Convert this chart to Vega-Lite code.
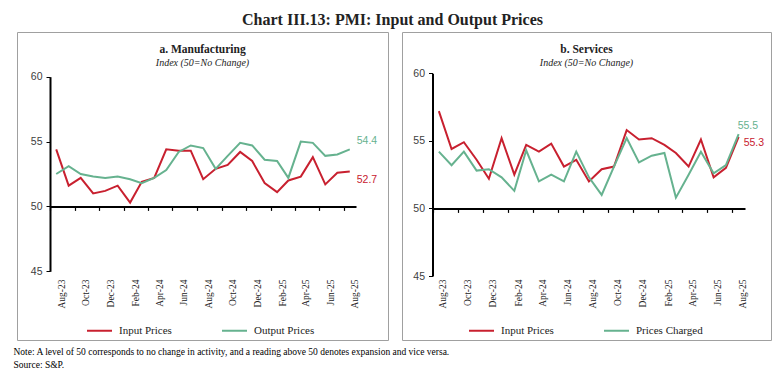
{
  "$schema": "https://vega.github.io/schema/vega-lite/v6.json",
  "background": "white",
  "padding": {"left": 13, "top": 11, "right": 15, "bottom": 0},
  "title": {"text": "Chart III.13: PMI: Input and Output Prices", "font": "Liberation Serif", "fontSize": 16, "fontWeight": "bold", "color": "#222222", "anchor": "middle", "offset": 4},
  "datasets": {
    "mfg": [
      {"month": "2023-08-01T00:00:00", "series": "Input Prices", "value": 54.4},
      {"month": "2023-09-01T00:00:00", "series": "Input Prices", "value": 51.6},
      {"month": "2023-10-01T00:00:00", "series": "Input Prices", "value": 52.2},
      {"month": "2023-11-01T00:00:00", "series": "Input Prices", "value": 51.0},
      {"month": "2023-12-01T00:00:00", "series": "Input Prices", "value": 51.2},
      {"month": "2024-01-01T00:00:00", "series": "Input Prices", "value": 51.6},
      {"month": "2024-02-01T00:00:00", "series": "Input Prices", "value": 50.3},
      {"month": "2024-03-01T00:00:00", "series": "Input Prices", "value": 51.9},
      {"month": "2024-04-01T00:00:00", "series": "Input Prices", "value": 52.2},
      {"month": "2024-05-01T00:00:00", "series": "Input Prices", "value": 54.4},
      {"month": "2024-06-01T00:00:00", "series": "Input Prices", "value": 54.3},
      {"month": "2024-07-01T00:00:00", "series": "Input Prices", "value": 54.3},
      {"month": "2024-08-01T00:00:00", "series": "Input Prices", "value": 52.1},
      {"month": "2024-09-01T00:00:00", "series": "Input Prices", "value": 52.9},
      {"month": "2024-10-01T00:00:00", "series": "Input Prices", "value": 53.2},
      {"month": "2024-11-01T00:00:00", "series": "Input Prices", "value": 54.2},
      {"month": "2024-12-01T00:00:00", "series": "Input Prices", "value": 53.5},
      {"month": "2025-01-01T00:00:00", "series": "Input Prices", "value": 51.8},
      {"month": "2025-02-01T00:00:00", "series": "Input Prices", "value": 51.1},
      {"month": "2025-03-01T00:00:00", "series": "Input Prices", "value": 52.0},
      {"month": "2025-04-01T00:00:00", "series": "Input Prices", "value": 52.3},
      {"month": "2025-05-01T00:00:00", "series": "Input Prices", "value": 53.8},
      {"month": "2025-06-01T00:00:00", "series": "Input Prices", "value": 51.7},
      {"month": "2025-07-01T00:00:00", "series": "Input Prices", "value": 52.6},
      {"month": "2025-08-01T00:00:00", "series": "Input Prices", "value": 52.7},
      {"month": "2023-08-01T00:00:00", "series": "Output Prices", "value": 52.5},
      {"month": "2023-09-01T00:00:00", "series": "Output Prices", "value": 53.1},
      {"month": "2023-10-01T00:00:00", "series": "Output Prices", "value": 52.5},
      {"month": "2023-11-01T00:00:00", "series": "Output Prices", "value": 52.3},
      {"month": "2023-12-01T00:00:00", "series": "Output Prices", "value": 52.2},
      {"month": "2024-01-01T00:00:00", "series": "Output Prices", "value": 52.3},
      {"month": "2024-02-01T00:00:00", "series": "Output Prices", "value": 52.1},
      {"month": "2024-03-01T00:00:00", "series": "Output Prices", "value": 51.8},
      {"month": "2024-04-01T00:00:00", "series": "Output Prices", "value": 52.2},
      {"month": "2024-05-01T00:00:00", "series": "Output Prices", "value": 52.8},
      {"month": "2024-06-01T00:00:00", "series": "Output Prices", "value": 54.2},
      {"month": "2024-07-01T00:00:00", "series": "Output Prices", "value": 54.7},
      {"month": "2024-08-01T00:00:00", "series": "Output Prices", "value": 54.5},
      {"month": "2024-09-01T00:00:00", "series": "Output Prices", "value": 52.9},
      {"month": "2024-10-01T00:00:00", "series": "Output Prices", "value": 53.9},
      {"month": "2024-11-01T00:00:00", "series": "Output Prices", "value": 54.9},
      {"month": "2024-12-01T00:00:00", "series": "Output Prices", "value": 54.7},
      {"month": "2025-01-01T00:00:00", "series": "Output Prices", "value": 53.6},
      {"month": "2025-02-01T00:00:00", "series": "Output Prices", "value": 53.5},
      {"month": "2025-03-01T00:00:00", "series": "Output Prices", "value": 52.2},
      {"month": "2025-04-01T00:00:00", "series": "Output Prices", "value": 55.0},
      {"month": "2025-05-01T00:00:00", "series": "Output Prices", "value": 54.9},
      {"month": "2025-06-01T00:00:00", "series": "Output Prices", "value": 53.9},
      {"month": "2025-07-01T00:00:00", "series": "Output Prices", "value": 54.0},
      {"month": "2025-08-01T00:00:00", "series": "Output Prices", "value": 54.4}
    ],
    "svc": [
      {"month": "2023-08-01T00:00:00", "series": "Input Prices", "value": 57.2},
      {"month": "2023-09-01T00:00:00", "series": "Input Prices", "value": 54.4},
      {"month": "2023-10-01T00:00:00", "series": "Input Prices", "value": 54.9},
      {"month": "2023-11-01T00:00:00", "series": "Input Prices", "value": 53.6},
      {"month": "2023-12-01T00:00:00", "series": "Input Prices", "value": 52.2},
      {"month": "2024-01-01T00:00:00", "series": "Input Prices", "value": 55.2},
      {"month": "2024-02-01T00:00:00", "series": "Input Prices", "value": 52.5},
      {"month": "2024-03-01T00:00:00", "series": "Input Prices", "value": 54.7},
      {"month": "2024-04-01T00:00:00", "series": "Input Prices", "value": 54.2},
      {"month": "2024-05-01T00:00:00", "series": "Input Prices", "value": 54.8},
      {"month": "2024-06-01T00:00:00", "series": "Input Prices", "value": 53.1},
      {"month": "2024-07-01T00:00:00", "series": "Input Prices", "value": 53.6},
      {"month": "2024-08-01T00:00:00", "series": "Input Prices", "value": 52.0},
      {"month": "2024-09-01T00:00:00", "series": "Input Prices", "value": 52.9},
      {"month": "2024-10-01T00:00:00", "series": "Input Prices", "value": 53.1},
      {"month": "2024-11-01T00:00:00", "series": "Input Prices", "value": 55.8},
      {"month": "2024-12-01T00:00:00", "series": "Input Prices", "value": 55.1},
      {"month": "2025-01-01T00:00:00", "series": "Input Prices", "value": 55.2},
      {"month": "2025-02-01T00:00:00", "series": "Input Prices", "value": 54.7},
      {"month": "2025-03-01T00:00:00", "series": "Input Prices", "value": 54.1},
      {"month": "2025-04-01T00:00:00", "series": "Input Prices", "value": 53.1},
      {"month": "2025-05-01T00:00:00", "series": "Input Prices", "value": 55.1},
      {"month": "2025-06-01T00:00:00", "series": "Input Prices", "value": 52.3},
      {"month": "2025-07-01T00:00:00", "series": "Input Prices", "value": 53.0},
      {"month": "2025-08-01T00:00:00", "series": "Input Prices", "value": 55.3},
      {"month": "2023-08-01T00:00:00", "series": "Prices Charged", "value": 54.2},
      {"month": "2023-09-01T00:00:00", "series": "Prices Charged", "value": 53.2},
      {"month": "2023-10-01T00:00:00", "series": "Prices Charged", "value": 54.2},
      {"month": "2023-11-01T00:00:00", "series": "Prices Charged", "value": 52.8},
      {"month": "2023-12-01T00:00:00", "series": "Prices Charged", "value": 52.9},
      {"month": "2024-01-01T00:00:00", "series": "Prices Charged", "value": 52.3},
      {"month": "2024-02-01T00:00:00", "series": "Prices Charged", "value": 51.3},
      {"month": "2024-03-01T00:00:00", "series": "Prices Charged", "value": 54.3},
      {"month": "2024-04-01T00:00:00", "series": "Prices Charged", "value": 52.0},
      {"month": "2024-05-01T00:00:00", "series": "Prices Charged", "value": 52.5},
      {"month": "2024-06-01T00:00:00", "series": "Prices Charged", "value": 52.0},
      {"month": "2024-07-01T00:00:00", "series": "Prices Charged", "value": 54.2},
      {"month": "2024-08-01T00:00:00", "series": "Prices Charged", "value": 52.3},
      {"month": "2024-09-01T00:00:00", "series": "Prices Charged", "value": 51.0},
      {"month": "2024-10-01T00:00:00", "series": "Prices Charged", "value": 53.1},
      {"month": "2024-11-01T00:00:00", "series": "Prices Charged", "value": 55.2},
      {"month": "2024-12-01T00:00:00", "series": "Prices Charged", "value": 53.4},
      {"month": "2025-01-01T00:00:00", "series": "Prices Charged", "value": 53.9},
      {"month": "2025-02-01T00:00:00", "series": "Prices Charged", "value": 54.1},
      {"month": "2025-03-01T00:00:00", "series": "Prices Charged", "value": 50.8},
      {"month": "2025-04-01T00:00:00", "series": "Prices Charged", "value": 52.5},
      {"month": "2025-05-01T00:00:00", "series": "Prices Charged", "value": 54.2},
      {"month": "2025-06-01T00:00:00", "series": "Prices Charged", "value": 52.6},
      {"month": "2025-07-01T00:00:00", "series": "Prices Charged", "value": 53.2},
      {"month": "2025-08-01T00:00:00", "series": "Prices Charged", "value": 55.5}
    ]
  },
  "vconcat": [
    {
      "hconcat": [
        {
          "width": 371,
          "height": 308,
          "view": {"stroke": "#A0A0A0", "strokeWidth": 1},
          "data": {"name": "mfg"},
          "title": {"text": "a. Manufacturing", "subtitle": "Index (50=No Change)", "offset": -36, "anchor": "middle", "font": "Liberation Serif", "fontSize": 11.5, "fontWeight": "bold", "color": "#222222", "subtitleFont": "Liberation Serif", "subtitleFontSize": 10, "subtitleFontStyle": "italic", "subtitleColor": "#222222", "subtitlePadding": 3},
          "encoding": {
            "x": {"field": "month", "type": "temporal",
              "scale": {"domain": [{"year": 2023, "month": 7, "date": 16, "hours": 12}, {"year": 2025, "month": 8, "date": 16, "hours": 12}], "range": [33, 339]},
              "axis": {"orient": "bottom", "offset": -61, "domain": false, "ticks": false, "tickSize": 0, "labelPadding": 0, "labelAngle": -90, "format": "%b-%y", "labelFont": "Liberation Serif", "labelFontSize": 9.5, "labelColor": "#222222", "labelOffset": 5, "title": null, "grid": false, "labelOverlap": false, "labelFlush": false,
                "values": [{"year": 2023, "month": 8, "date": 1}, {"year": 2023, "month": 10, "date": 1}, {"year": 2023, "month": 12, "date": 1}, {"year": 2024, "month": 2, "date": 1}, {"year": 2024, "month": 4, "date": 1}, {"year": 2024, "month": 6, "date": 1}, {"year": 2024, "month": 8, "date": 1}, {"year": 2024, "month": 10, "date": 1}, {"year": 2024, "month": 12, "date": 1}, {"year": 2025, "month": 2, "date": 1}, {"year": 2025, "month": 4, "date": 1}, {"year": 2025, "month": 6, "date": 1}, {"year": 2025, "month": 8, "date": 1}]}},
            "y": {"field": "value", "type": "quantitative",
              "scale": {"domain": [45, 60], "range": [239.3, 44.7], "nice": false, "zero": false},
              "axis": {"orient": "left", "offset": -33, "values": [45, 50, 55, 60], "title": null, "grid": false, "domainColor": "#000000", "domainWidth": 2, "tickColor": "#000000", "tickSize": 4, "tickWidth": 1, "labelFont": "Liberation Sans", "labelFontSize": 10.5, "labelColor": "#404040", "labelPadding": 4}},
            "color": {"field": "series", "type": "nominal",
              "scale": {"domain": ["Input Prices", "Output Prices"], "range": ["#C8202F", "#66B28F"]},
              "legend": {"orient": "none", "legendX": 69, "legendY": 285, "direction": "horizontal", "title": null, "symbolType": "stroke", "symbolStrokeWidth": 2, "symbolSize": 625, "labelFont": "Liberation Serif", "labelFontSize": 11, "labelColor": "#222222", "columnPadding": 46, "labelOffset": 6}}
          },
          "layer": [
            {"mark": {"type": "line", "strokeWidth": 2}},
            {
              "transform": [{"filter": "datum.series === 'Output Prices' && time(datum.month) === time(datetime(2025, 7, 1))"}],
              "mark": {"type": "text", "align": "left", "baseline": "middle", "dx": 7, "dy": -8, "font": "Liberation Sans", "fontSize": 10.5},
              "encoding": {
                "text": {"field": "value", "type": "quantitative", "format": ".1f"},
                "x": {"field": "month", "type": "temporal",
                  "axis": {"orient": "bottom", "offset": -133.6, "domain": true, "domainColor": "#000000", "domainWidth": 2, "ticks": true, "tickColor": "#000000", "tickSize": 4, "tickWidth": 1.2, "labels": false, "title": null, "grid": false,
                    "values": [{"year": 2023, "month": 7, "date": 16, "hours": 12}, {"year": 2023, "month": 9, "date": 16}, {"year": 2023, "month": 11, "date": 16}, {"year": 2024, "month": 1, "date": 16, "hours": 12}, {"year": 2024, "month": 3, "date": 16, "hours": 12}, {"year": 2024, "month": 5, "date": 16, "hours": 12}, {"year": 2024, "month": 7, "date": 16, "hours": 12}, {"year": 2024, "month": 9, "date": 16}, {"year": 2024, "month": 11, "date": 16}, {"year": 2025, "month": 1, "date": 16, "hours": 12}, {"year": 2025, "month": 3, "date": 16, "hours": 12}, {"year": 2025, "month": 5, "date": 16, "hours": 12}, {"year": 2025, "month": 7, "date": 16, "hours": 12}]}}
              }
            },
            {
              "transform": [{"filter": "datum.series === 'Input Prices' && time(datum.month) === time(datetime(2025, 7, 1))"}],
              "mark": {"type": "text", "align": "left", "baseline": "middle", "dx": 7, "dy": 9, "font": "Liberation Sans", "fontSize": 10.5},
              "encoding": {
                "text": {"field": "value", "type": "quantitative", "format": ".1f"},
                "x": {"field": "month", "type": "temporal", "axis": null}
              }
            }
          ],
          "resolve": {"axis": {"x": "independent"}}
        },
        {
          "width": 369,
          "height": 308,
          "view": {"stroke": "#A0A0A0", "strokeWidth": 1},
          "data": {"name": "svc"},
          "title": {"text": "b. Services", "subtitle": "Index (50=No Change)", "offset": -36, "anchor": "middle", "font": "Liberation Serif", "fontSize": 11.5, "fontWeight": "bold", "color": "#222222", "subtitleFont": "Liberation Serif", "subtitleFontSize": 10, "subtitleFontStyle": "italic", "subtitleColor": "#222222", "subtitlePadding": 3},
          "encoding": {
            "x": {"field": "month", "type": "temporal",
              "scale": {"domain": [{"year": 2023, "month": 7, "date": 16, "hours": 12}, {"year": 2025, "month": 8, "date": 16, "hours": 12}], "range": [30.5, 343]},
              "axis": {"orient": "bottom", "offset": -61, "domain": false, "ticks": false, "tickSize": 0, "labelPadding": 0, "labelAngle": -90, "format": "%b-%y", "labelFont": "Liberation Serif", "labelFontSize": 9.5, "labelColor": "#222222", "labelOffset": 4, "title": null, "grid": false, "labelOverlap": false, "labelFlush": false,
                "values": [{"year": 2023, "month": 8, "date": 1}, {"year": 2023, "month": 10, "date": 1}, {"year": 2023, "month": 12, "date": 1}, {"year": 2024, "month": 2, "date": 1}, {"year": 2024, "month": 4, "date": 1}, {"year": 2024, "month": 6, "date": 1}, {"year": 2024, "month": 8, "date": 1}, {"year": 2024, "month": 10, "date": 1}, {"year": 2024, "month": 12, "date": 1}, {"year": 2025, "month": 2, "date": 1}, {"year": 2025, "month": 4, "date": 1}, {"year": 2025, "month": 6, "date": 1}, {"year": 2025, "month": 8, "date": 1}]}},
            "y": {"field": "value", "type": "quantitative",
              "scale": {"domain": [45, 60], "range": [244, 41.3], "nice": false, "zero": false},
              "axis": {"orient": "left", "offset": -30.5, "values": [45, 50, 55, 60], "title": null, "grid": false, "domainColor": "#000000", "domainWidth": 2, "tickColor": "#000000", "tickSize": 4, "tickWidth": 1, "labelFont": "Liberation Sans", "labelFontSize": 10.5, "labelColor": "#404040", "labelPadding": 4}},
            "color": {"field": "series", "type": "nominal",
              "scale": {"domain": ["Input Prices", "Prices Charged"], "range": ["#C8202F", "#66B28F"]},
              "legend": {"orient": "none", "legendX": 66, "legendY": 285, "direction": "horizontal", "title": null, "symbolType": "stroke", "symbolStrokeWidth": 2, "symbolSize": 625, "labelFont": "Liberation Serif", "labelFontSize": 11, "labelColor": "#222222", "columnPadding": 46, "labelOffset": 6}}
          },
          "layer": [
            {"mark": {"type": "line", "strokeWidth": 2}},
            {
              "transform": [{"filter": "datum.series === 'Prices Charged' && time(datum.month) === time(datetime(2025, 7, 1))"}],
              "mark": {"type": "text", "align": "left", "baseline": "middle", "dx": -1, "dy": -8, "font": "Liberation Sans", "fontSize": 10.5},
              "encoding": {
                "text": {"field": "value", "type": "quantitative", "format": ".1f"},
                "x": {"field": "month", "type": "temporal",
                  "axis": {"orient": "bottom", "offset": -131.6, "domain": true, "domainColor": "#000000", "domainWidth": 2, "ticks": true, "tickColor": "#000000", "tickSize": 4, "tickWidth": 1.2, "labels": false, "title": null, "grid": false,
                    "values": [{"year": 2023, "month": 7, "date": 16, "hours": 12}, {"year": 2023, "month": 9, "date": 16}, {"year": 2023, "month": 11, "date": 16}, {"year": 2024, "month": 1, "date": 16, "hours": 12}, {"year": 2024, "month": 3, "date": 16, "hours": 12}, {"year": 2024, "month": 5, "date": 16, "hours": 12}, {"year": 2024, "month": 7, "date": 16, "hours": 12}, {"year": 2024, "month": 9, "date": 16}, {"year": 2024, "month": 11, "date": 16}, {"year": 2025, "month": 1, "date": 16, "hours": 12}, {"year": 2025, "month": 3, "date": 16, "hours": 12}, {"year": 2025, "month": 5, "date": 16, "hours": 12}, {"year": 2025, "month": 7, "date": 16, "hours": 12}]}}
              }
            },
            {
              "transform": [{"filter": "datum.series === 'Input Prices' && time(datum.month) === time(datetime(2025, 7, 1))"}],
              "mark": {"type": "text", "align": "left", "baseline": "middle", "dx": 5, "dy": 6, "font": "Liberation Sans", "fontSize": 10.5},
              "encoding": {
                "text": {"field": "value", "type": "quantitative", "format": ".1f"},
                "x": {"field": "month", "type": "temporal", "axis": null}
              }
            }
          ],
          "resolve": {"axis": {"x": "independent"}}
        }
      ],
      "spacing": 12,
      "resolve": {"scale": {"color": "independent"}, "legend": {"color": "independent"}},
      "title": {"text": "Note: A level of 50 corresponds to no change in activity, and a reading above 50 denotes expansion and vice versa.", "subtitle": "Source: S&P.", "orient": "bottom", "anchor": "start", "font": "Liberation Serif", "fontSize": 9.5, "fontWeight": "normal", "color": "#000000", "subtitleFont": "Liberation Serif", "subtitleFontSize": 9.5, "subtitleColor": "#000000", "subtitlePadding": 4, "offset": 6, "dx": -3}
    }
  ],
  "config": {
    "view": {"stroke": null},
    "font": "Liberation Serif"
  }
}
